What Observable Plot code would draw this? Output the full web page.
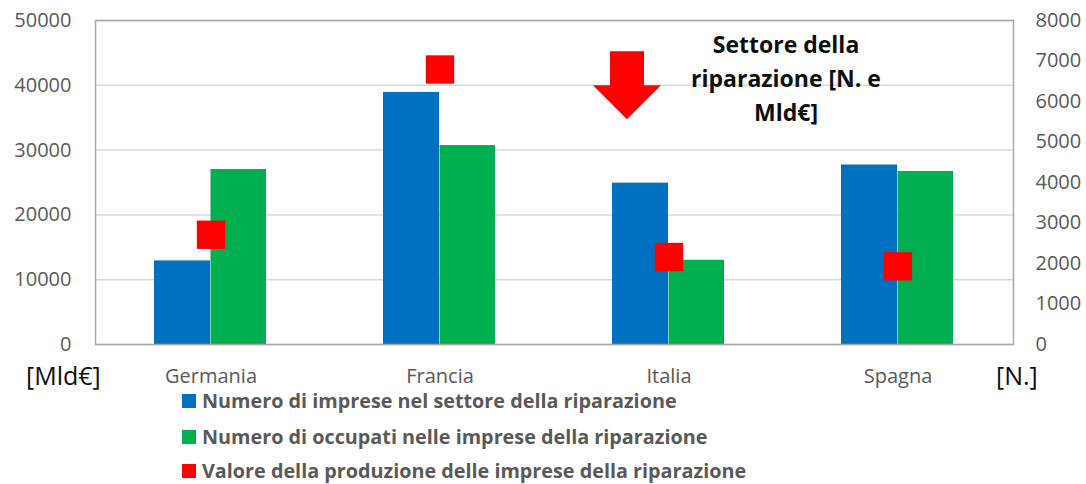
<!DOCTYPE html>
<html>
<head>
<meta charset="utf-8">
<script src="https://cdn.jsdelivr.net/npm/d3@7"></script>
<script src="https://cdn.jsdelivr.net/npm/@observablehq/plot@0.6"></script>
<style>
  html, body { margin: 0; padding: 0; background: #fff; }
  #wrap { position: relative; width: 1086px; height: 484px; font-family: "Open Sans", sans-serif; overflow: hidden; }
  #chart { position: absolute; left: 0; top: 0; }
  .unit { position: absolute; font-size: 25px; color: #0d0d0d; line-height: 30px; }
  .leg { position: absolute; left: 182px; height: 20px; line-height: 20px; display: flex; align-items: center;
         font-weight: 700; font-size: 19.8px; color: #595959; white-space: nowrap; }
  .leg span.sw { display: inline-block; width: 14px; height: 14px; margin-right: 6px; }
</style>
</head>
<body>
<div id="wrap">
  <div id="chart"></div>
  <div class="unit" style="left:26px; top:360px;">[Mld€]</div>
  <div class="unit" style="left:996px; top:360px;">[N.]</div>
  <div id="legend"></div>
</div>
<script>
// ---- data ----
const countries = ["Germania", "Francia", "Italia", "Spagna"];
const imprese   = [12900, 38900, 24900, 27700];   // blue bars (left axis)
const occupati  = [27000, 30700, 13000, 26700];   // green bars (left axis)
const valore    = [2710, 6790, 2160, 1930];       // red squares (right axis)
const leftTicks  = [0, 10000, 20000, 30000, 40000, 50000];
const rightTicks = [0, 1000, 2000, 3000, 4000, 5000, 6000, 7000, 8000];
const seriesNames = [
  "Numero di imprese nel settore della riparazione",
  "Numero di occupati nelle imprese della riparazione",
  "Valore della produzione delle imprese della riparazione"
];
const seriesColors = ["#0070c0", "#00b050", "#ff0000"];
const titleText = "Settore della\nriparazione [N. e\nMld€]";
const arrowNote = [{country: "Italia", value: 40000}];

const leftMax = 50000, rightMax = 8000;
const ratio = leftMax / rightMax;

const rows = countries.map((c, i) => ({country: c, imprese: imprese[i], occupati: occupati[i], valore: valore[i]}));

const arrowSymbol = {
  draw(ctx, size) {
    const r = Math.sqrt(size / Math.PI);
    const h = r * 0.5;
    ctx.moveTo(-h, -r);
    ctx.lineTo(h, -r);
    ctx.lineTo(h, 0);
    ctx.lineTo(r, 0);
    ctx.lineTo(0, r);
    ctx.lineTo(-r, 0);
    ctx.lineTo(-h, 0);
    ctx.closePath();
  }
};

const fmt = d3.format("d");

const chart = Plot.plot({
  width: 1086,
  height: 390,
  marginLeft: 95,
  marginRight: 73,
  marginTop: 20,
  marginBottom: 46,
  style: {fontFamily: "Open Sans", background: "white", overflow: "visible"},
  x: {type: "band", domain: countries, padding: 0},
  y: {domain: [0, leftMax]},
  marks: [
    Plot.gridY(leftTicks, {stroke: "#d9d9d9", strokeOpacity: 1, strokeWidth: 1.5}),
    Plot.barY(rows, {x: "country", y: "imprese", fill: seriesColors[0], insetLeft: 58, insetRight: 115}),
    Plot.barY(rows, {x: "country", y: "occupati", fill: seriesColors[1], insetLeft: 114.5, insetRight: 59}),
    Plot.dot(rows, {x: "country", y: d => d.valore * ratio, symbol: "square", r: 16, fill: seriesColors[2]}),
    Plot.dot(arrowNote, {x: "country", y: "value", dx: -42, symbol: arrowSymbol, r: 34, fill: seriesColors[2]}),
    Plot.text([titleText], {x: () => "Spagna", dx: -112, frameAnchor: "top", dy: 8, lineAnchor: "top",
      lineHeight: 1.48, fontSize: 23, fontWeight: 700, fill: "#0d0d0d", text: d => d}),
    Plot.frame({stroke: "#a6a6a6", strokeWidth: 1.5}),
    Plot.axisY(leftTicks, {anchor: "left", tickSize: 0, tickPadding: 24, fontSize: 20, color: "#595959", tickFormat: fmt, label: null}),
    Plot.axisY(rightTicks.map(v => v * ratio), {anchor: "right", tickSize: 0, tickPadding: 22, fontSize: 20, color: "#595959",
      tickFormat: d => fmt(Math.round(d / ratio)), label: null}),
    Plot.axisX({tickSize: 0, tickPadding: 24, fontSize: 20, color: "#595959", label: null})
  ]
});
document.getElementById("chart").appendChild(chart);

const legendTops = [391, 427, 461];
const legend = document.getElementById("legend");
seriesNames.forEach((name, i) => {
  const row = document.createElement("div");
  row.className = "leg";
  row.style.top = legendTops[i] + "px";
  const sw = document.createElement("span");
  sw.className = "sw";
  sw.style.background = seriesColors[i];
  row.appendChild(sw);
  row.appendChild(document.createTextNode(name));
  legend.appendChild(row);
});
</script>
</body>
</html>
